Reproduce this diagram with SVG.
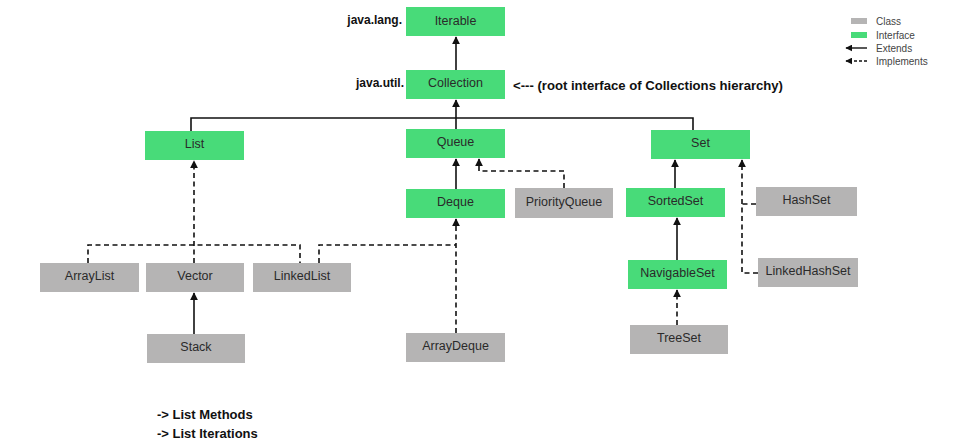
<svg xmlns="http://www.w3.org/2000/svg" width="957" height="444" viewBox="0 0 957 444">
<style>
.iface{fill:#48db79}
.cls{fill:#b5b4b4}
.lbl{font-family:"Liberation Sans",Arial,sans-serif;font-size:12.5px;fill:#2a2a2a;text-anchor:middle;dominant-baseline:central}
.bold{font-family:"Liberation Sans",Arial,sans-serif;font-size:12px;font-weight:bold;fill:#111}
.bot{font-size:13px}
.leg{font-family:"Liberation Sans",Arial,sans-serif;font-size:10px;fill:#444;dominant-baseline:central}
.ext{fill:none;stroke:#111;stroke-width:1.6}
.imp{fill:none;stroke:#111;stroke-width:1.6;stroke-dasharray:5,3.5}
</style>
<defs>
<marker id="ah" viewBox="0 0 10 10" refX="9" refY="5" markerWidth="5" markerHeight="5" orient="auto">
<path d="M0,0 L10,5 L0,10 z" fill="#111"/>
</marker>
</defs>
<rect width="957" height="444" fill="#ffffff"/>

<g id="connectors">
<line class="ext" x1="456" y1="70" x2="456" y2="37" marker-end="url(#ah)"/>
<line class="ext" x1="456" y1="129" x2="456" y2="100" marker-end="url(#ah)"/>
<polyline class="ext" points="191,131 191,118 693,118 693,130"/>
<line class="ext" x1="456" y1="189" x2="456" y2="159" marker-end="url(#ah)"/>
<polyline class="imp" points="564,188 564,171 479,171 479,159" marker-end="url(#ah)"/>
<polyline class="imp" points="88,263 88,245 300,245 300,263"/>
<line class="imp" x1="194" y1="263" x2="194" y2="161" marker-end="url(#ah)"/>
<polyline class="imp" points="319,263 319,245 456,245"/>
<line class="imp" x1="456" y1="333" x2="456" y2="219" marker-end="url(#ah)"/>
<line class="ext" x1="194" y1="334" x2="194" y2="293" marker-end="url(#ah)"/>
<line class="ext" x1="675" y1="188" x2="675" y2="160" marker-end="url(#ah)"/>
<line class="ext" x1="677" y1="260" x2="677" y2="218" marker-end="url(#ah)"/>
<line class="imp" x1="677" y1="325" x2="677" y2="290" marker-end="url(#ah)"/>
<polyline class="imp" points="758,273 742,273 742,160" marker-end="url(#ah)"/>
<polyline class="imp" points="756,204 742,204"/>
</g>

<g id="Iterable"><rect class="iface" x="406" y="7" width="99" height="29"/><text class="lbl" x="455.5" y="21">Iterable</text></g>
<g id="Collection"><rect class="iface" x="406" y="70" width="99" height="29"/><text class="lbl" x="455.5" y="83">Collection</text></g>
<g id="List"><rect class="iface" x="145" y="131" width="99" height="29"/><text class="lbl" x="194.5" y="144">List</text></g>
<g id="Queue"><rect class="iface" x="406" y="129" width="99" height="29"/><text class="lbl" x="455.5" y="142">Queue</text></g>
<g id="Set"><rect class="iface" x="651" y="130" width="99" height="29"/><text class="lbl" x="700.5" y="143">Set</text></g>
<g id="Deque"><rect class="iface" x="406" y="189" width="99" height="29"/><text class="lbl" x="455.5" y="202">Deque</text></g>
<g id="PriorityQueue"><rect class="cls" x="515" y="188" width="98" height="30"/><text class="lbl" x="564" y="202">PriorityQueue</text></g>
<g id="SortedSet"><rect class="iface" x="626" y="188" width="99" height="29"/><text class="lbl" x="675.5" y="201">SortedSet</text></g>
<g id="HashSet"><rect class="cls" x="756" y="187" width="101" height="29"/><text class="lbl" x="806.5" y="200">HashSet</text></g>
<g id="NavigableSet"><rect class="iface" x="628" y="260" width="99" height="29"/><text class="lbl" x="677.5" y="273">NavigableSet</text></g>
<g id="LinkedHashSet"><rect class="cls" x="758" y="258" width="100" height="29"/><text class="lbl" x="808" y="271">LinkedHashSet</text></g>
<g id="TreeSet"><rect class="cls" x="630" y="325" width="98" height="29"/><text class="lbl" x="679" y="338">TreeSet</text></g>
<g id="ArrayList"><rect class="cls" x="40" y="263" width="99" height="29"/><text class="lbl" x="89.5" y="276">ArrayList</text></g>
<g id="Vector"><rect class="cls" x="146" y="263" width="98" height="29"/><text class="lbl" x="195" y="276">Vector</text></g>
<g id="LinkedList"><rect class="cls" x="253" y="263" width="98" height="29"/><text class="lbl" x="302" y="276">LinkedList</text></g>
<g id="Stack"><rect class="cls" x="147" y="334" width="98" height="29"/><text class="lbl" x="196" y="347">Stack</text></g>
<g id="ArrayDeque"><rect class="cls" x="406" y="333" width="99" height="29"/><text class="lbl" x="455.5" y="346">ArrayDeque</text></g>

<g id="annotations">
<text class="bold" x="402" y="24" text-anchor="end">java.lang.</text>
<text class="bold" x="404" y="87" text-anchor="end">java.util.</text>
<text class="bold" x="513" y="90" textLength="270" lengthAdjust="spacingAndGlyphs">&lt;--- (root interface of Collections hierarchy)</text>
<text class="bold bot" x="157" y="419">-&gt; List Methods</text>
<text class="bold bot" x="157" y="438">-&gt; List Iterations</text>
</g>

<g id="legend">
<rect class="cls" x="851" y="18" width="16" height="6"/>
<text class="leg" x="876" y="21">Class</text>
<rect class="iface" x="851" y="32" width="16" height="6"/>
<text class="leg" x="876" y="35">Interface</text>
<line x1="867" y1="48" x2="846" y2="48" stroke="#111" stroke-width="1.4" marker-end="url(#ah)"/>
<text class="leg" x="876" y="48">Extends</text>
<line x1="867" y1="61" x2="846" y2="61" stroke="#111" stroke-width="1.4" stroke-dasharray="3,2" marker-end="url(#ah)"/>
<text class="leg" x="876" y="61">Implements</text>
</g>
</svg>
